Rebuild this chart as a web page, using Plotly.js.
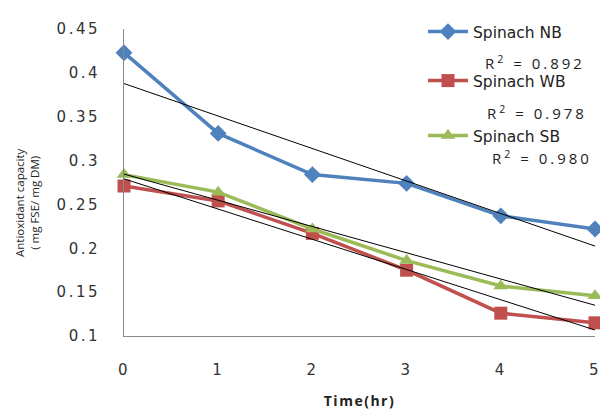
<!DOCTYPE html>
<html>
<head>
<meta charset="utf-8">
<script src="https://cdn.plot.ly/plotly-3.0.1.min.js"></script>
<style>
html,body{margin:0;padding:0;background:#fff;}
#chart{width:600px;height:413px;}
#chart .xtick text, #chart .ytick text {letter-spacing: 2.5px;}
#chart g.annotation text {letter-spacing: 3px;}
#chart g.annotation[data-index="3"] text {letter-spacing: 0px;}
#chart .xtitle {letter-spacing: 1.5px;}
</style>
</head>
<body>
<div id="chart"></div>
<script>
var timeHr = [0, 1, 2, 3, 4, 5];
var seriesNames = ["Spinach NB", "Spinach WB", "Spinach SB"];
var spinachNB = [0.423, 0.331, 0.284, 0.274, 0.237, 0.222];
var spinachWB = [0.271, 0.254, 0.217, 0.175, 0.126, 0.115];
var spinachSB = [0.284, 0.264, 0.222, 0.186, 0.157, 0.146];
var r2Labels = ["0.892", "0.978", "0.980"];
var xTicks = [0, 1, 2, 3, 4, 5];
var yTicks = [0.1, 0.15, 0.2, 0.25, 0.3, 0.35, 0.4, 0.45];
var yTickText = ["0.1", "0.15", "0.2", "0.25", "0.3", "0.35", "0.4", "0.45"];

var colors = ["#4F81BD", "#C0504D", "#9BBB59"];
var symbols = ["diamond", "square", "triangle-up"];
var allSeries = [spinachNB, spinachWB, spinachSB];

function linfit(x, y) {
  var n = x.length, mx = 0, my = 0;
  for (var i = 0; i < n; i++) { mx += x[i]; my += y[i]; }
  mx /= n; my /= n;
  var sxy = 0, sxx = 0;
  for (var j = 0; j < n; j++) { sxy += (x[j]-mx)*(y[j]-my); sxx += (x[j]-mx)*(x[j]-mx); }
  var b = sxy / sxx;
  var a = my - b*mx;
  return x.map(function(v){ return a + b*v; });
}

var legends = ["legend", "legend2", "legend3"];
var traces = [];
allSeries.forEach(function(s, i) {
  traces.push({
    x: timeHr, y: s, type: "scatter", mode: "lines+markers",
    name: seriesNames[i], legend: legends[i],
    line: {color: colors[i], width: 3.5},
    marker: {symbol: symbols[i], size: 13, color: colors[i]},
    cliponaxis: false
  });
});
allSeries.forEach(function(s, i) {
  traces.push({
    x: timeHr, y: linfit(timeHr, s), type: "scatter", mode: "lines",
    showlegend: false, hoverinfo: "skip",
    line: {color: "#000", width: 1}
  });
});

var L = 124, R = 5, T = 29, B = 77;
var W = 600 - L - R, H = 413 - T - B;
function px(x) { return (x - L) / W; }
function py(y) { return (413 - B - y) / H; }

var legFont = {family: "DejaVu Sans, sans-serif", size: 15.5, color: "#222"};
function mkLegend(yPix) {
  return {x: px(423), y: py(yPix), xanchor: "left", yanchor: "middle",
    bgcolor: "rgba(0,0,0,0)", font: legFont, itemwidth: 40};
}

var annFont = {family: "Open Sans, sans-serif", size: 15, color: "#222"};
var layout = {
  width: 600, height: 413,
  margin: {l: L, r: R, t: T, b: B},
  paper_bgcolor: "#fff", plot_bgcolor: "#fff",
  font: {family: "DejaVu Sans, sans-serif", color: "#333"},
  xaxis: {
    range: [0, 5], tickvals: xTicks, showgrid: false, zeroline: false,
    showline: true, linecolor: "#888", linewidth: 1,
    ticks: "outside", ticklen: 0, ticklabelstandoff: 20,
    tickfont: {family: "DejaVu Sans, sans-serif", size: 15, color: "#333"},
    title: {text: "<b>Time(hr)</b>", font: {family: "Open Sans, sans-serif", size: 14, color: "#222"}, standoff: 18}
  },
  yaxis: {
    range: [0.1, 0.45], tickvals: yTicks, ticktext: yTickText, showgrid: false, zeroline: false,
    showline: true, linecolor: "#888", linewidth: 1,
    ticks: "outside", ticklen: 0, ticklabelstandoff: 20,
    tickfont: {family: "DejaVu Sans, sans-serif", size: 15, color: "#333"}
  },
  legend: mkLegend(32),
  legend2: mkLegend(81),
  legend3: mkLegend(136),
  annotations: [
    {xref: "paper", yref: "paper", x: px(535), y: py(62), text: "R<sup>2</sup> = " + r2Labels[0], showarrow: false, font: annFont, xanchor: "center", yanchor: "middle"},
    {xref: "paper", yref: "paper", x: px(537), y: py(112), text: "R<sup>2</sup> = " + r2Labels[1], showarrow: false, font: annFont, xanchor: "center", yanchor: "middle"},
    {xref: "paper", yref: "paper", x: px(542), y: py(157), text: "R<sup>2</sup> = " + r2Labels[2], showarrow: false, font: annFont, xanchor: "center", yanchor: "middle"},
    {xref: "paper", yref: "paper", x: px(27), y: py(203), textangle: -90,
     text: "Antioxidant capacity<br>( mg FSE/ mg DM)", showarrow: false,
     font: {family: "Open Sans, sans-serif", size: 11.5, color: "#222"}, xanchor: "center", yanchor: "middle"}
  ]
};

Plotly.newPlot("chart", traces, layout, {displayModeBar: false, staticPlot: true});
</script>
</body>
</html>
